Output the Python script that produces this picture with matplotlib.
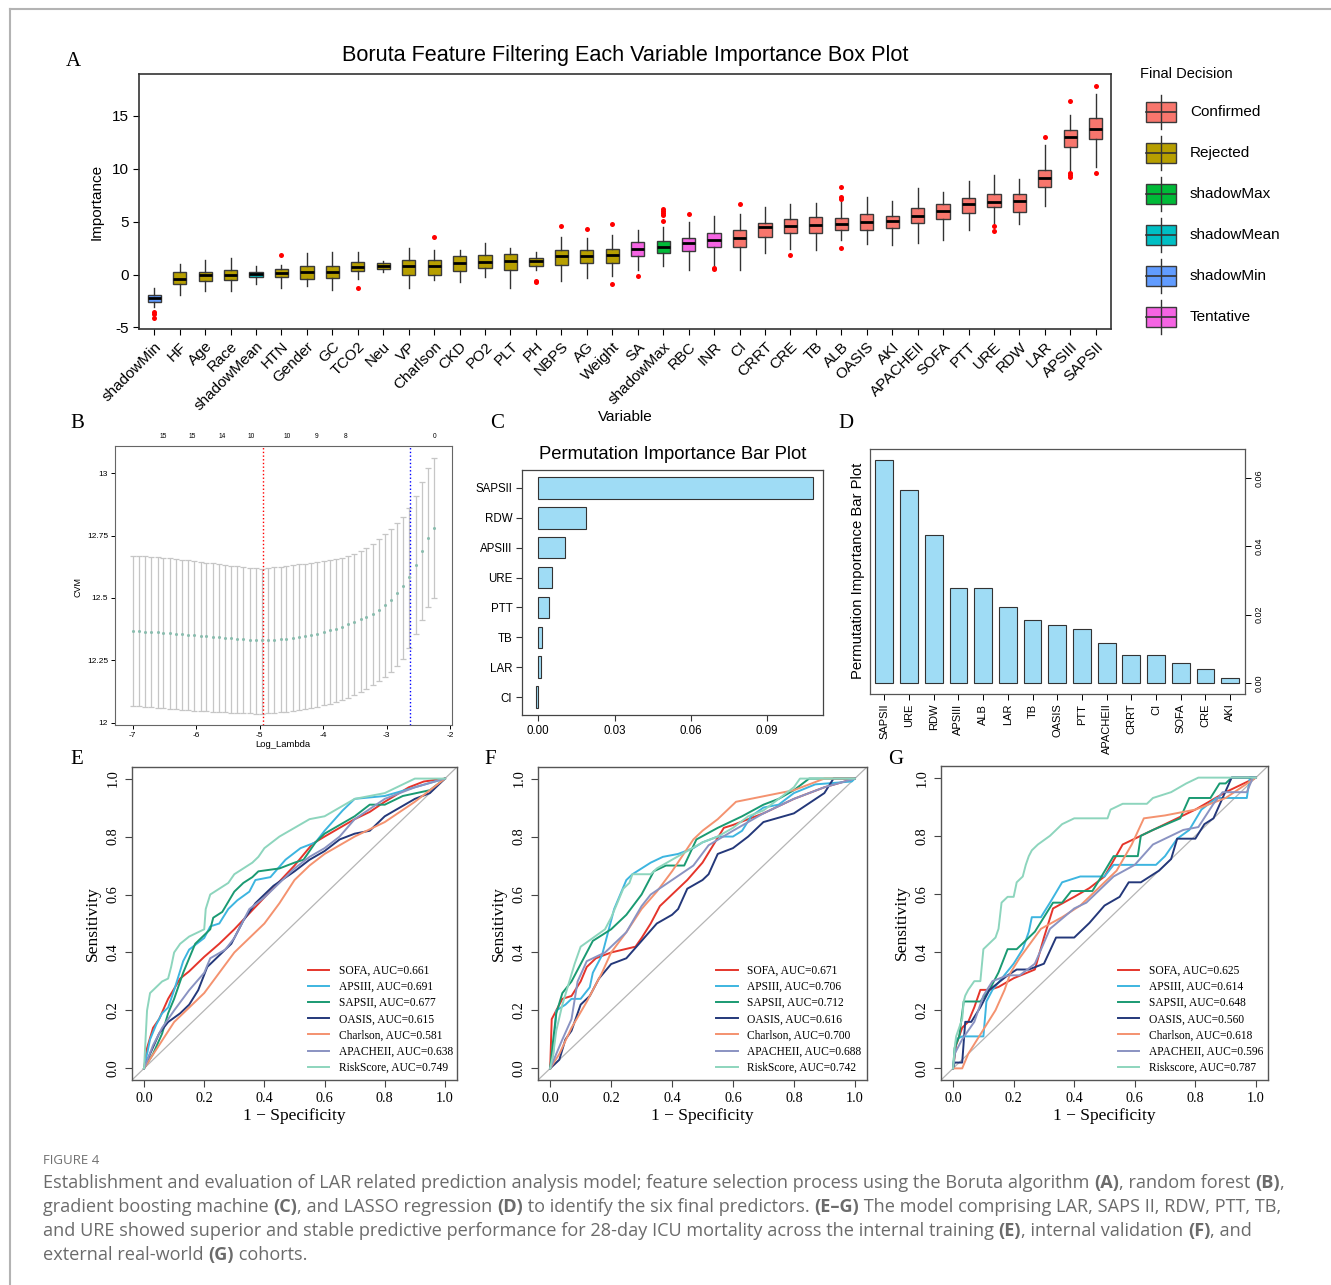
import numpy as np
import matplotlib
matplotlib.use('Agg')
import matplotlib.pyplot as plt
from matplotlib.lines import Line2D
from matplotlib.patches import Rectangle

plt.rcParams['font.family'] = ['Liberation Sans', 'DejaVu Sans']
plt.rcParams['axes.unicode_minus'] = False

# ---------------- Panel A: Boruta importance boxes ----------------
boruta_vars = ['shadowMin', 'HF', 'Age', 'Race', 'shadowMean', 'HTN', 'Gender', 'GC', 'TCO2', 'Neu',
               'VP', 'Charlson', 'CKD', 'PO2', 'PLT', 'PH', 'NBPS', 'AG', 'Weight', 'SA',
               'shadowMax', 'RBC', 'INR', 'CI', 'CRRT', 'CRE', 'TB', 'ALB', 'OASIS', 'AKI',
               'APACHEII', 'SOFA', 'PTT', 'URE', 'RDW', 'LAR', 'APSIII', 'SAPSII']
boruta_decision = (['shadowMin', 'Rejected', 'Rejected', 'Rejected', 'shadowMean'] + ['Rejected'] * 14 +
                   ['Tentative', 'shadowMax', 'Tentative', 'Tentative'] + ['Confirmed'] * 15)
b_q1 = [-2.58, -0.91, -0.66, -0.5, -0.19, -0.28, -0.41, -0.35, 0.31, 0.5, -0.09, -0.03, 0.35, 0.63, 0.47,
        0.79, 0.94, 1.13, 1.13, 1.79, 2.04, 2.2, 2.64, 2.64, 3.55, 3.93, 3.96, 4.25, 4.25, 4.4, 4.87, 5.28,
        5.85, 6.41, 5.88, 8.3, 12.08, 12.8]
b_med = [-2.2, -0.41, -0.03, 0.0, 0.06, 0.16, 0.19, 0.22, 0.72, 0.85, 0.85, 0.85, 1.13, 1.19, 1.23, 1.32,
         1.73, 1.73, 1.89, 2.45, 2.61, 2.96, 3.24, 3.43, 4.5, 4.62, 4.65, 4.81, 4.97, 5.03, 5.5, 6.0, 6.7,
         6.89, 6.95, 9.15, 12.96, 13.74]
b_q3 = [-1.92, 0.25, 0.28, 0.41, 0.28, 0.53, 0.85, 0.85, 1.16, 1.13, 1.38, 1.38, 1.73, 1.86, 1.95, 1.57,
        2.33, 2.33, 2.42, 3.05, 3.21, 3.49, 3.93, 4.18, 4.87, 5.28, 5.44, 5.38, 5.75, 5.57, 6.29, 6.67, 7.26,
        7.61, 7.61, 9.91, 13.68, 14.75]
b_lo = [-3.05, -1.92, -1.6, -1.54, -0.85, -1.23, -1.13, -1.48, -0.47, 0.28, -1.32, -0.5, -0.75, -0.22,
        -1.23, 0.41, -0.6, -0.35, -0.15, 0.41, 0.85, 0.47, 0.85, 0.47, 2.04, 2.45, 2.36, 3.24, 2.86, 2.83,
        3.02, 3.24, 4.25, 4.87, 4.81, 6.48, 9.9, 10.16]
b_hi = [-1.23, 1.04, 1.38, 1.6, 0.79, 0.94, 2.08, 2.14, 2.17, 1.26, 2.55, 2.3, 2.33, 3.02, 2.48, 2.17, 3.52,
        3.43, 3.77, 4.18, 4.5, 4.97, 5.57, 5.75, 6.38, 6.64, 6.76, 6.9, 7.33, 6.92, 8.2, 7.8, 8.87, 9.37,
        9.03, 12.26, 15.06, 17.07]
b_out = [[-3.5, -3.7, -4.1], [], [], [], [], [1.89], [], [], [-1.23], [], [], [3.52], [], [], [], [-0.6, -0.75],
         [4.56], [4.31], [4.75, -0.88], [-0.13], [5.06, 5.6, 5.8, 6.0, 6.2], [5.75], [0.6, 0.5], [6.7], [],
         [1.82], [], [8.24, 7.3, 7.1, 2.52], [], [], [], [], [], [4.56, 4.09], [], [12.99], [16.4, 9.6, 9.4, 9.25],
         [17.86, 9.6]]
decision_order = ['Confirmed', 'Rejected', 'shadowMax', 'shadowMean', 'shadowMin', 'Tentative']
decision_colors = ['#F8766D', '#B79F00', '#00BA38', '#00BFC4', '#619CFF', '#F564E3']

# ---------------- Panel B: LASSO cross-validation ----------------
lasso_loglam = [-7.00, -6.90, -6.81, -6.71, -6.61, -6.52, -6.42, -6.32, -6.22, -6.13, -6.03, -5.93, -5.84,
                -5.74, -5.64, -5.55, -5.45, -5.35, -5.26, -5.16, -5.06, -4.96, -4.87, -4.77, -4.67, -4.58,
                -4.48, -4.38, -4.28, -4.19, -4.09, -3.99, -3.90, -3.80, -3.70, -3.61, -3.51, -3.41, -3.32,
                -3.22, -3.12, -3.03, -2.93, -2.83, -2.74, -2.64, -2.54, -2.44, -2.35, -2.25]
lasso_cvm = [12.368, 12.366, 12.365, 12.363, 12.362, 12.360, 12.358, 12.356, 12.354, 12.352, 12.350, 12.348,
             12.346, 12.344, 12.342, 12.340, 12.338, 12.336, 12.334, 12.333, 12.332, 12.331, 12.332, 12.333,
             12.335, 12.337, 12.340, 12.343, 12.347, 12.352, 12.357, 12.363, 12.370, 12.377, 12.385, 12.394,
             12.404, 12.414, 12.425, 12.437, 12.451, 12.470, 12.492, 12.518, 12.548, 12.585, 12.633, 12.688,
             12.740, 12.780]
lasso_up = [12.670, 12.669, 12.668, 12.666, 12.664, 12.662, 12.660, 12.657, 12.654, 12.651, 12.648, 12.645,
            12.642, 12.639, 12.636, 12.633, 12.630, 12.627, 12.624, 12.621, 12.619, 12.618, 12.620, 12.623,
            12.626, 12.629, 12.632, 12.635, 12.638, 12.641, 12.644, 12.647, 12.651, 12.656, 12.662, 12.669,
            12.677, 12.687, 12.700, 12.716, 12.735, 12.756, 12.777, 12.800, 12.826, 12.860, 12.910, 12.966,
            13.020, 13.060]
lasso_lo = [12.066, 12.065, 12.064, 12.062, 12.060, 12.058, 12.056, 12.054, 12.052, 12.050, 12.048, 12.046,
            12.045, 12.043, 12.042, 12.041, 12.040, 12.039, 12.038, 12.037, 12.036, 12.036, 12.037, 12.039,
            12.041, 12.044, 12.047, 12.050, 12.054, 12.059, 12.064, 12.070, 12.076, 12.083, 12.091, 12.100,
            12.110, 12.122, 12.135, 12.150, 12.166, 12.183, 12.203, 12.226, 12.255, 12.300, 12.355, 12.410,
            12.462, 12.500]
lasso_nz_pos = [-6.52, -6.06, -5.59, -5.13, -4.57, -4.11, -3.65, -2.25]
lasso_nz_lab = ['15', '15', '14', '10', '10', '9', '8', '0']
lam_min_log = -4.95
lam_1se_log = -2.63

# ---------------- Panel C: GBM permutation importance ----------------
gbm_vars = ['SAPSII', 'RDW', 'APSIII', 'URE', 'PTT', 'TB', 'LAR', 'CI']
gbm_imp = [0.1079, 0.0189, 0.0104, 0.0054, 0.0041, 0.0016, 0.0012, -0.0009]

# ---------------- Panel D: random forest permutation importance ----------------
rf_vars = ['SAPSII', 'URE', 'RDW', 'APSIII', 'ALB', 'LAR', 'TB', 'OASIS', 'PTT', 'APACHEII', 'CRRT', 'CI',
           'SOFA', 'CRE', 'AKI']
rf_imp = [0.0654, 0.0564, 0.0434, 0.0278, 0.0277, 0.0223, 0.0184, 0.0171, 0.0157, 0.0118, 0.0081, 0.0081,
          0.0060, 0.0041, 0.0015]

# ---------------- Panels E-G: ROC curves (fpr, tpr) ----------------
e_sofa = [(0, 0), (0.01, 0.07), (0.03, 0.14), (0.05, 0.17), (0.08, 0.24), (0.12, 0.31), (0.15, 0.335),
          (0.2, 0.385), (0.25, 0.43), (0.3, 0.48), (0.35, 0.535), (0.4, 0.59), (0.45, 0.645), (0.5, 0.70),
          (0.56, 0.775), (0.6, 0.80), (0.65, 0.83), (0.7, 0.86), (0.75, 0.885), (0.8, 0.92), (0.88, 0.97),
          (0.93, 0.99), (1, 1)]
e_apsiii = [(0, 0), (0.02, 0.1), (0.04, 0.15), (0.06, 0.19), (0.08, 0.21), (0.1, 0.27), (0.13, 0.37),
            (0.15, 0.41), (0.2, 0.45), (0.22, 0.49), (0.25, 0.5), (0.28, 0.55), (0.31, 0.58), (0.35, 0.61),
            (0.37, 0.65), (0.42, 0.66), (0.47, 0.72), (0.52, 0.76), (0.57, 0.78), (0.6, 0.82), (0.66, 0.89),
            (0.7, 0.93), (0.8, 0.94), (0.9, 0.97), (1, 1)]
e_sapsii = [(0, 0), (0.03, 0.05), (0.06, 0.12), (0.08, 0.19), (0.1, 0.24), (0.13, 0.33), (0.17, 0.43),
            (0.2, 0.46), (0.22, 0.48), (0.23, 0.52), (0.26, 0.54), (0.3, 0.61), (0.33, 0.64), (0.36, 0.66),
            (0.38, 0.68), (0.45, 0.69), (0.5, 0.71), (0.53, 0.72), (0.57, 0.78), (0.6, 0.81), (0.7, 0.87),
            (0.75, 0.91), (0.8, 0.91), (0.86, 0.94), (0.95, 0.96), (1, 1)]
e_oasis = [(0, 0), (0.02, 0.05), (0.05, 0.12), (0.08, 0.16), (0.12, 0.19), (0.15, 0.22), (0.18, 0.27),
           (0.21, 0.35), (0.25, 0.39), (0.29, 0.43), (0.33, 0.51), (0.37, 0.57), (0.43, 0.63), (0.5, 0.68),
           (0.55, 0.72), (0.6, 0.75), (0.65, 0.79), (0.7, 0.81), (0.75, 0.82), (0.8, 0.87), (0.85, 0.9),
           (0.9, 0.93), (0.95, 0.95), (1, 1)]
e_charlson = [(0, 0), (0.05, 0.08), (0.1, 0.16), (0.15, 0.21), (0.2, 0.26), (0.25, 0.33), (0.3, 0.4),
              (0.35, 0.45), (0.4, 0.5), (0.45, 0.57), (0.5, 0.65), (0.55, 0.7), (0.6, 0.74), (0.7, 0.8),
              (0.8, 0.85), (0.9, 0.92), (1, 1)]
e_apacheii = [(0, 0), (0.03, 0.08), (0.06, 0.14), (0.1, 0.2), (0.15, 0.27), (0.2, 0.33), (0.22, 0.38),
              (0.27, 0.41), (0.3, 0.45), (0.35, 0.55), (0.4, 0.59), (0.45, 0.64), (0.5, 0.69), (0.55, 0.73),
              (0.6, 0.76), (0.65, 0.8), (0.7, 0.86), (0.8, 0.93), (0.9, 0.97), (1, 1)]
e_risk = [(0, 0), (0.005, 0.1), (0.01, 0.2), (0.02, 0.26), (0.04, 0.28), (0.06, 0.3), (0.08, 0.31),
          (0.09, 0.35), (0.1, 0.4), (0.12, 0.43), (0.15, 0.455), (0.18, 0.47), (0.2, 0.48), (0.205, 0.55),
          (0.22, 0.6), (0.25, 0.62), (0.28, 0.64), (0.3, 0.67), (0.33, 0.69), (0.36, 0.71), (0.38, 0.73),
          (0.4, 0.76), (0.45, 0.8), (0.5, 0.83), (0.55, 0.86), (0.6, 0.87), (0.65, 0.9), (0.7, 0.93),
          (0.8, 0.95), (0.9, 1.0), (1, 1)]

f_sofa = [(0, 0), (0.005, 0.17), (0.02, 0.2), (0.04, 0.24), (0.07, 0.25), (0.1, 0.3), (0.12, 0.35),
          (0.15, 0.38), (0.2, 0.4), (0.28, 0.42), (0.3, 0.45), (0.33, 0.5), (0.36, 0.56), (0.4, 0.6),
          (0.45, 0.65), (0.5, 0.71), (0.57, 0.83), (0.6, 0.84), (0.7, 0.88), (0.8, 0.93), (0.9, 0.97), (1, 1)]
f_apsiii = [(0, 0), (0.01, 0.05), (0.02, 0.2), (0.05, 0.22), (0.07, 0.24), (0.1, 0.24), (0.13, 0.28),
            (0.14, 0.33), (0.17, 0.39), (0.19, 0.47), (0.21, 0.55), (0.23, 0.6), (0.25, 0.65), (0.27, 0.67),
            (0.3, 0.69), (0.33, 0.71), (0.37, 0.73), (0.42, 0.74), (0.47, 0.76), (0.5, 0.78), (0.55, 0.8),
            (0.6, 0.8), (0.63, 0.82), (0.66, 0.87), (0.7, 0.9), (0.75, 0.91), (0.8, 0.95), (0.87, 0.98),
            (0.99, 0.99), (1, 1)]
f_sapsii = [(0, 0), (0.01, 0.1), (0.02, 0.19), (0.04, 0.26), (0.07, 0.3), (0.1, 0.36), (0.14, 0.44),
            (0.2, 0.48), (0.25, 0.53), (0.3, 0.6), (0.34, 0.68), (0.38, 0.7), (0.44, 0.7), (0.48, 0.79),
            (0.55, 0.83), (0.63, 0.87), (0.7, 0.91), (0.75, 0.93), (0.8, 0.96), (0.85, 1.0), (1, 1)]
f_oasis = [(0, 0), (0.01, 0.01), (0.03, 0.03), (0.05, 0.1), (0.07, 0.13), (0.1, 0.22), (0.13, 0.25),
           (0.16, 0.31), (0.2, 0.36), (0.25, 0.38), (0.3, 0.44), (0.35, 0.5), (0.4, 0.53), (0.42, 0.55),
           (0.45, 0.62), (0.5, 0.65), (0.52, 0.67), (0.55, 0.74), (0.6, 0.76), (0.65, 0.8), (0.7, 0.85),
           (0.8, 0.88), (0.9, 0.95), (0.93, 1.0), (1, 1)]
f_charlson = [(0, 0), (0.03, 0.05), (0.07, 0.14), (0.12, 0.23), (0.17, 0.33), (0.2, 0.4), (0.25, 0.47),
              (0.3, 0.55), (0.35, 0.61), (0.4, 0.68), (0.47, 0.79), (0.5, 0.82), (0.55, 0.86), (0.61, 0.92),
              (0.8, 0.96), (0.9, 1.0), (1, 1)]
f_apacheii = [(0, 0), (0.02, 0.05), (0.04, 0.1), (0.07, 0.17), (0.09, 0.3), (0.12, 0.37), (0.18, 0.4),
              (0.25, 0.47), (0.3, 0.56), (0.33, 0.6), (0.4, 0.65), (0.47, 0.7), (0.52, 0.77), (0.6, 0.82),
              (0.7, 0.88), (0.8, 0.93), (0.9, 0.97), (1, 1)]
f_risk = [(0, 0), (0.01, 0.05), (0.02, 0.13), (0.04, 0.22), (0.06, 0.29), (0.08, 0.36), (0.1, 0.42),
          (0.14, 0.45), (0.18, 0.48), (0.2, 0.52), (0.22, 0.57), (0.24, 0.62), (0.26, 0.64), (0.27, 0.67),
          (0.33, 0.67), (0.35, 0.69), (0.4, 0.72), (0.45, 0.75), (0.5, 0.78), (0.55, 0.8), (0.6, 0.83),
          (0.65, 0.87), (0.7, 0.89), (0.75, 0.93), (0.8, 0.97), (0.82, 1.0), (1, 1)]

g_sofa = [(0, 0), (0.01, 0.08), (0.03, 0.14), (0.05, 0.16), (0.07, 0.21), (0.09, 0.27), (0.12, 0.27),
          (0.15, 0.28), (0.2, 0.31), (0.27, 0.34), (0.3, 0.45), (0.33, 0.55), (0.4, 0.59), (0.45, 0.62),
          (0.5, 0.66), (0.56, 0.77), (0.6, 0.79), (0.7, 0.84), (0.8, 0.89), (0.9, 0.95), (1, 1)]
g_apsiii = [(0, 0), (0.01, 0.1), (0.03, 0.11), (0.1, 0.11), (0.11, 0.23), (0.13, 0.27), (0.2, 0.36),
            (0.23, 0.41), (0.25, 0.47), (0.26, 0.52), (0.29, 0.52), (0.32, 0.57), (0.36, 0.64), (0.42, 0.66),
            (0.5, 0.66), (0.53, 0.7), (0.67, 0.7), (0.7, 0.73), (0.74, 0.79), (0.78, 0.82), (0.82, 0.89),
            (0.87, 0.93), (0.97, 0.93), (0.98, 1.0), (1, 1)]
g_sapsii = [(0, 0), (0.005, 0.07), (0.02, 0.11), (0.035, 0.23), (0.09, 0.23), (0.12, 0.27), (0.15, 0.33),
            (0.18, 0.41), (0.21, 0.41), (0.23, 0.43), (0.27, 0.47), (0.3, 0.52), (0.33, 0.57), (0.36, 0.57),
            (0.39, 0.61), (0.46, 0.61), (0.49, 0.66), (0.53, 0.73), (0.61, 0.73), (0.62, 0.8), (0.66, 0.82),
            (0.75, 0.86), (0.78, 0.93), (0.85, 0.93), (0.88, 0.98), (0.9, 0.98), (0.92, 1.0), (1, 1)]
g_oasis = [(0, 0), (0.005, 0.02), (0.03, 0.02), (0.04, 0.16), (0.06, 0.16), (0.09, 0.21), (0.12, 0.27),
           (0.18, 0.32), (0.21, 0.34), (0.25, 0.34), (0.3, 0.36), (0.34, 0.45), (0.4, 0.45), (0.45, 0.5),
           (0.5, 0.56), (0.55, 0.59), (0.58, 0.64), (0.62, 0.64), (0.68, 0.68), (0.72, 0.72), (0.74, 0.79),
           (0.8, 0.79), (0.83, 0.84), (0.86, 0.86), (0.89, 0.93), (0.92, 1.0), (1, 1)]
g_charlson = [(0, 0), (0.03, 0.0), (0.05, 0.05), (0.08, 0.1), (0.11, 0.15), (0.14, 0.2), (0.17, 0.27),
              (0.19, 0.33), (0.22, 0.38), (0.29, 0.48), (0.36, 0.52), (0.42, 0.56), (0.46, 0.6), (0.54, 0.68),
              (0.59, 0.77), (0.63, 0.86), (0.7, 0.87), (0.8, 0.89), (0.9, 0.93), (1, 1)]
g_apacheii = [(0, 0), (0.005, 0.05), (0.03, 0.1), (0.07, 0.16), (0.1, 0.25), (0.13, 0.3), (0.18, 0.32),
              (0.22, 0.32), (0.27, 0.36), (0.32, 0.48), (0.4, 0.55), (0.44, 0.57), (0.48, 0.61), (0.53, 0.66),
              (0.6, 0.7), (0.66, 0.77), (0.7, 0.79), (0.76, 0.82), (0.81, 0.83), (0.86, 0.91), (0.89, 0.95),
              (0.97, 0.95), (0.99, 1.0), (1, 1)]
g_risk = [(0, 0), (0.005, 0.07), (0.01, 0.11), (0.03, 0.17), (0.035, 0.23), (0.04, 0.25), (0.05, 0.27),
          (0.07, 0.3), (0.09, 0.3), (0.1, 0.41), (0.12, 0.43), (0.14, 0.45), (0.15, 0.48), (0.16, 0.57),
          (0.18, 0.59), (0.2, 0.59), (0.21, 0.64), (0.23, 0.66), (0.24, 0.7), (0.25, 0.73), (0.26, 0.75),
          (0.28, 0.77), (0.32, 0.8), (0.36, 0.84), (0.4, 0.86), (0.51, 0.86), (0.52, 0.89), (0.56, 0.91),
          (0.64, 0.91), (0.66, 0.93), (0.72, 0.95), (0.77, 0.98), (0.81, 1.0), (1, 1)]

e_labels = ['SOFA, AUC=0.661', 'APSIII, AUC=0.691', 'SAPSII, AUC=0.677', 'OASIS, AUC=0.615',
            'Charlson, AUC=0.581', 'APACHEII, AUC=0.638', 'RiskScore, AUC=0.749']
f_labels = ['SOFA, AUC=0.671', 'APSIII, AUC=0.706', 'SAPSII, AUC=0.712', 'OASIS, AUC=0.616',
            'Charlson, AUC=0.700', 'APACHEII, AUC=0.688', 'RiskScore, AUC=0.742']
g_labels = ['SOFA, AUC=0.625', 'APSIII, AUC=0.614', 'SAPSII, AUC=0.648', 'OASIS, AUC=0.560',
            'Charlson, AUC=0.618', 'APACHEII, AUC=0.596', 'Riskscore, AUC=0.787']
roc_colors = ['#E5352B', '#3DB5E0', '#1A9A72', '#24387A', '#F4926F', '#8A93C2', '#8DD5BD']

# ------------------------------------------------------------------
W, H = 1331, 1285
fig = plt.figure(figsize=(W / 100, H / 100), dpi=100)
SERIF = ['Liberation Serif', 'DejaVu Serif']


def box(l, t, r, b):
    return [l / W, 1 - b / H, (r - l) / W, (b - t) / H]


def ftext(x, y, s, **kw):
    return fig.text(x / W, 1 - y / H, s, **kw)


# frame of the figure page
fig.add_artist(Line2D([10 / W, 1], [1 - 9 / H, 1 - 9 / H], color='#b3b3b3', lw=1.5))
fig.add_artist(Line2D([10 / W, 10 / W], [0, 1 - 9 / H], color='#b3b3b3', lw=1.5))

# ---- A ----
axA = fig.add_axes(box(139, 74, 1111, 329))
stats = []
for i in range(len(boruta_vars)):
    stats.append(dict(med=b_med[i], q1=b_q1[i], q3=b_q3[i], whislo=b_lo[i], whishi=b_hi[i],
                      fliers=b_out[i]))
pos = np.arange(1, len(boruta_vars) + 1)
bp = axA.bxp(stats, positions=pos, widths=0.52, patch_artist=True, showcaps=False,
             boxprops=dict(edgecolor='#3a3a3a', linewidth=1),
             whiskerprops=dict(color='#333333', linewidth=1),
             medianprops=dict(color='black', linewidth=2),
             flierprops=dict(marker='o', markerfacecolor='red', markeredgecolor='none', markersize=3.6))
for patch, d in zip(bp['boxes'], boruta_decision):
    patch.set_facecolor(decision_colors[decision_order.index(d)])
axA.set_xlim(0.4, len(boruta_vars) + 0.6)
axA.set_ylim(-5.15, 18.95)
axA.set_yticks([-5, 0, 5, 10, 15])
axA.set_xticks(pos)
axA.set_xticklabels(boruta_vars, rotation=45, ha='right', rotation_mode='anchor', fontsize=11)
axA.tick_params(axis='y', labelsize=11, length=4)
axA.tick_params(axis='x', length=4)
for s in axA.spines.values():
    s.set_color('#333333')
    s.set_linewidth(1.2)
axA.set_ylabel('Importance', fontsize=11, labelpad=6)
ftext(625, 56, 'Boruta Feature Filtering Each Variable Importance Box Plot', fontsize=15.6,
      ha='center', va='center')
ftext(625, 417, 'Variable', fontsize=11, ha='center', va='center')

# legend of A
legA = fig.add_axes(box(1130, 60, 1331, 340))
legA.set_xlim(1130, 1331)
legA.set_ylim(340, 60)
legA.axis('off')
legA.text(1140, 74, 'Final Decision', fontsize=10.5, va='center', ha='left')
for i, (name, col) in enumerate(zip(decision_order, decision_colors)):
    cy = 112 + 41 * i
    legA.plot([1161, 1161], [cy - 17, cy + 17], color='#333333', lw=1)
    legA.add_patch(Rectangle((1146, cy - 10), 30, 20, facecolor=col, edgecolor='#3a3a3a', lw=1))
    legA.plot([1146, 1176], [cy, cy], color='#333333', lw=1.2)
    legA.text(1190, cy, name, fontsize=11, va='center', ha='left')

# ---- B ----
axB = fig.add_axes(box(115, 446, 452, 725))
cvm = np.array(lasso_cvm)
axB.errorbar(lasso_loglam, cvm, yerr=[cvm - np.array(lasso_lo), np.array(lasso_up) - cvm], fmt='o',
             ms=1.2, color='#8bbcae', ecolor='#c6c6c6', elinewidth=0.9, capsize=2.2, capthick=0.9)
axB.axvline(lam_min_log, color='red', ls=':', lw=1)
axB.axvline(lam_1se_log, color='blue', ls=':', lw=1)
axB.set_xlim(-7.28, -1.97)
axB.set_ylim(11.99, 13.11)
axB.set_xticks([-7, -6, -5, -4, -3, -2])
axB.set_yticks([12, 12.25, 12.5, 12.75, 13])
axB.set_yticklabels(['12', '12.25', '12.5', '12.75', '13'])
axB.tick_params(labelsize=6, length=3, width=0.7, pad=2)
for s in axB.spines.values():
    s.set_color('#666666')
    s.set_linewidth(0.8)
top = axB.secondary_xaxis('top')
top.set_xticks(lasso_nz_pos)
top.set_xticklabels(lasso_nz_lab)
top.tick_params(length=0, labelsize=4.8, pad=4)
top.spines['top'].set_visible(False)
ftext(78, 587, 'CVM', fontsize=6.5, rotation=90, ha='center', va='center')
ftext(283, 744, 'Log_Lambda', fontsize=6.8, ha='center', va='center')

# ---- C ----
axC = fig.add_axes(box(522, 470, 823, 715))
ypos = np.arange(len(gbm_vars))[::-1]
axC.barh(ypos, gbm_imp, height=0.72, color='#9fdcf5', edgecolor='#333333', linewidth=0.8)
axC.set_yticks(ypos)
axC.set_yticklabels(gbm_vars)
axC.set_ylim(-0.6, len(gbm_vars) - 0.4)
axC.set_xlim(-0.0064, 0.112)
axC.set_xticks([0, 0.03, 0.06, 0.09])
axC.set_xticklabels(['0.00', '0.03', '0.06', '0.09'])
axC.tick_params(labelsize=8.3, length=4, color='#333333', pad=3)
for s in axC.spines.values():
    s.set_color('#444444')
    s.set_linewidth(0.9)
ftext(673, 454, 'Permutation Importance Bar Plot', fontsize=13.3, ha='center', va='center')

# ---- D ----
axD = fig.add_axes(box(870, 449, 1245, 694))
xd = np.arange(len(rf_vars))
axD.bar(xd, rf_imp, width=0.72, color='#9fdcf5', edgecolor='#333333', linewidth=0.8)
axD.set_xlim(-0.58, len(rf_vars) - 0.4)
axD.set_ylim(-0.0032, 0.0685)
axD.set_xticks(xd)
axD.set_xticklabels(rf_vars, rotation=90, fontsize=8)
axD.yaxis.tick_right()
axD.set_yticks([0, 0.02, 0.04, 0.06])
axD.set_yticklabels(['0.00', '0.02', '0.04', '0.06'], rotation=90, va='center', fontsize=6.5)
axD.tick_params(length=4, width=0.7, pad=3)
for s in axD.spines.values():
    s.set_color('#555555')
    s.set_linewidth(0.9)
ftext(858, 571, 'Permutation Importance Bar Plot', fontsize=10.7, rotation=90, ha='center', va='center')


# ---- E, F, G ----
def roc_panel(rect, curves, labels):
    ax = fig.add_axes(rect)
    ax.axline((0, 0), (1, 1), color='#b5b5b5', lw=0.9)
    for pts, lab, col in zip(curves, labels, roc_colors):
        a = np.array(pts, dtype=float)
        ax.plot(a[:, 0], a[:, 1], color=col, lw=1.4, label=lab)
    ax.set_xlim(-0.04, 1.04)
    ax.set_ylim(-0.04, 1.04)
    ticks = [0, 0.2, 0.4, 0.6, 0.8, 1.0]
    tl = ['0.0', '0.2', '0.4', '0.6', '0.8', '1.0']
    ax.set_xticks(ticks)
    ax.set_xticklabels(tl, family=SERIF, fontsize=10.3)
    ax.set_yticks(ticks)
    ax.set_yticklabels(tl, family=SERIF, fontsize=10.3, rotation=90, va='center')
    ax.tick_params(length=5, width=0.8, color='#444444', pad=4)
    for s in ax.spines.values():
        s.set_color('#555555')
        s.set_linewidth(1)
    ax.set_xlabel('1 \u2212 Specificity', family=SERIF, fontsize=12.5, labelpad=2)
    ax.set_ylabel('Sensitivity', family=SERIF, fontsize=12.5, labelpad=4)
    ax.legend(loc='lower left', bbox_to_anchor=(0.54, 0.02), frameon=False, borderpad=0,
              borderaxespad=0, handlelength=1.9, handletextpad=0.8, labelspacing=0.36,
              prop=dict(family=SERIF, size=8.3))
    return ax


roc_panel(box(132, 767, 457, 1080), [e_sofa, e_apsiii, e_sapsii, e_oasis, e_charlson, e_apacheii, e_risk],
          e_labels)
roc_panel(box(538, 767, 867, 1080), [f_sofa, f_apsiii, f_sapsii, f_oasis, f_charlson, f_apacheii, f_risk],
          f_labels)
roc_panel(box(941, 766, 1268, 1080), [g_sofa, g_apsiii, g_sapsii, g_oasis, g_charlson, g_apacheii, g_risk],
          g_labels)

# panel letters
for lab, x, y in [('A', 73, 61), ('B', 77, 424), ('C', 497, 424), ('D', 846, 424),
                  ('E', 77, 759), ('F', 490, 759), ('G', 896, 759)]:
    ftext(x, y, lab, family=SERIF, fontsize=15, ha='center', va='center')

# ---- caption ----
CAP = ['Open Sans', 'DejaVu Sans']
CAPCOL = '#6b6b6b'
ftext(43, 1160, 'FIGURE 4', family=CAP, fontsize=9.5, color='#707070', ha='left', va='center')
renderer = fig.canvas.get_renderer()


def seg_width(s, size, weight):
    t1 = fig.text(0, 0, '|' + s + '|', family=CAP, fontsize=size, fontweight=weight)
    t2 = fig.text(0, 0, '||', family=CAP, fontsize=size, fontweight=weight)
    w = t1.get_window_extent(renderer).width - t2.get_window_extent(renderer).width
    t1.remove()
    t2.remove()
    return w


def rich_line(y, segs, size=13.1):
    x = 43
    for s, b in segs:
        wt = 'bold' if b else 'normal'
        ftext(x, y, s, family=CAP, fontsize=size, fontweight=wt, color=CAPCOL, ha='left', va='center')
        x += seg_width(s, size, wt)


rich_line(1183, [('Establishment and evaluation of LAR related prediction analysis model; feature selection '
                  'process using the Boruta algorithm ', False), ('(A)', True), (', random forest ', False),
                 ('(B)', True), (',', False)])
rich_line(1207, [('gradient boosting machine ', False), ('(C)', True), (', and LASSO regression ', False),
                 ('(D)', True), (' to identify the six final predictors. ', False), ('(E\u2013G)', True),
                 (' The model comprising LAR, SAPS II, RDW, PTT, TB,', False)])
rich_line(1231, [('and URE showed superior and stable predictive performance for 28-day ICU mortality across '
                  'the internal training ', False), ('(E)', True), (', internal validation ', False),
                 ('(F)', True), (', and', False)])
rich_line(1255, [('external real-world ', False), ('(G)', True), (' cohorts.', False)])

fig.savefig('out.png', dpi=100)
